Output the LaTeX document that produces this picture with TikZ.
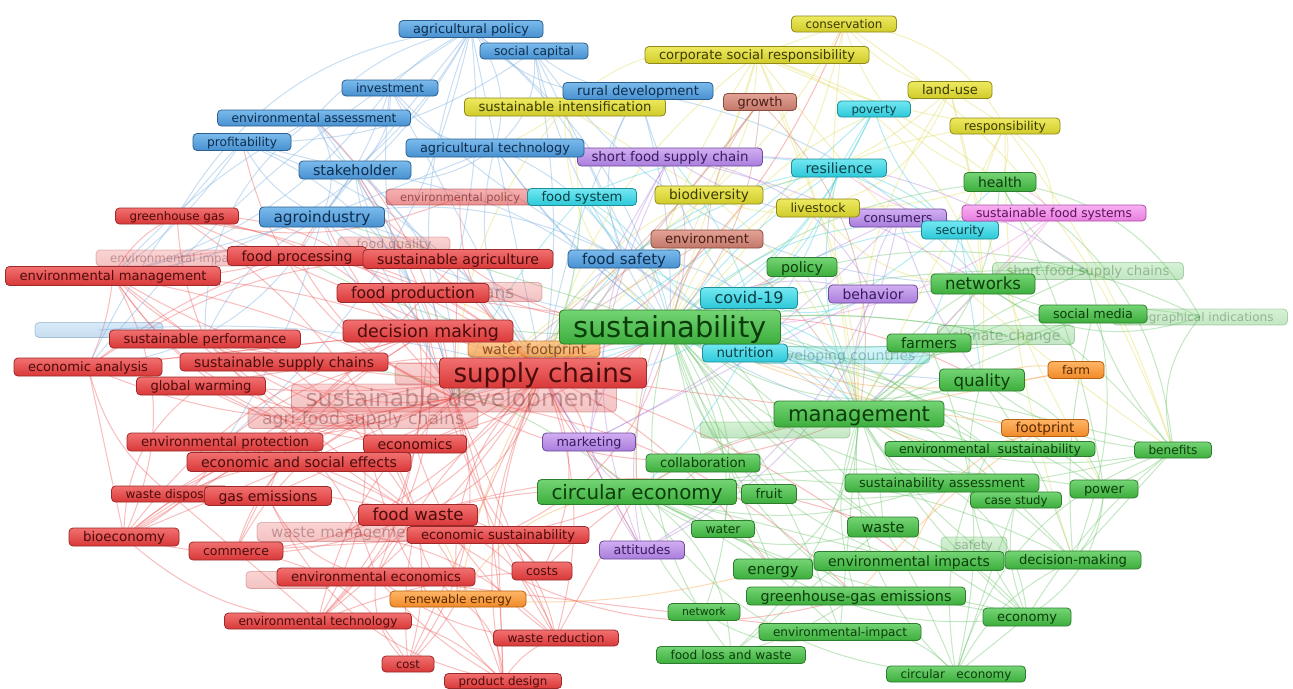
\documentclass[tikz,border=0pt]{standalone}
\usepackage{fontspec}
\setmainfont{DejaVu Sans}
\usetikzlibrary{shadings}
\pgfdeclarelayer{back}
\pgfdeclarelayer{bg}
\pgfsetlayers{back,bg,main}
\definecolor{rT}{HTML}{F27070}\definecolor{rB}{HTML}{D93838}\definecolor{rD}{HTML}{9C2A2A}\definecolor{rX}{HTML}{4A0C0C}
\definecolor{gT}{HTML}{74D474}\definecolor{gB}{HTML}{3CAE3C}\definecolor{gD}{HTML}{2E7D2E}\definecolor{gX}{HTML}{0B3D0B}
\definecolor{bT}{HTML}{7BBBEC}\definecolor{bB}{HTML}{4790D0}\definecolor{bD}{HTML}{2A5F8F}\definecolor{bX}{HTML}{0D2D4D}
\definecolor{yT}{HTML}{EEEA60}\definecolor{yB}{HTML}{CFCB2A}\definecolor{yD}{HTML}{8F8A1A}\definecolor{yX}{HTML}{3D3A05}
\definecolor{cT}{HTML}{72E8F2}\definecolor{cB}{HTML}{2CC8D8}\definecolor{cD}{HTML}{1E8F9A}\definecolor{cX}{HTML}{0B3F45}
\definecolor{pT}{HTML}{D2AEF2}\definecolor{pB}{HTML}{A97DDC}\definecolor{pD}{HTML}{6F4A9A}\definecolor{pX}{HTML}{3A1A5E}
\definecolor{nT}{HTML}{E3A296}\definecolor{nB}{HTML}{C2786A}\definecolor{nD}{HTML}{8A4A3E}\definecolor{nX}{HTML}{4A1E16}
\definecolor{oT}{HTML}{FFB566}\definecolor{oB}{HTML}{F08A28}\definecolor{oD}{HTML}{B8600E}\definecolor{oX}{HTML}{5A2800}
\definecolor{kT}{HTML}{F8B0F2}\definecolor{kB}{HTML}{E87EE0}\definecolor{kD}{HTML}{B04AA8}\definecolor{kX}{HTML}{5E1058}
\definecolor{eR}{HTML}{F05A5A}\definecolor{eG}{HTML}{6CC46C}\definecolor{eB}{HTML}{78AEE0}
\definecolor{eY}{HTML}{E2DC58}\definecolor{eC}{HTML}{48D0E0}\definecolor{eP}{HTML}{B488E0}
\definecolor{eN}{HTML}{C88070}\definecolor{eO}{HTML}{F8A448}\definecolor{eK}{HTML}{F080E0}
\tikzset{
  kwbase/.style={rounded corners=3pt, draw, line width=0.6pt, inner sep=0pt,
    text height=0pt, text depth=0pt},
  R/.style={kwbase, top color=rT, bottom color=rB, draw=rD, text=rX},
  G/.style={kwbase, top color=gT, bottom color=gB, draw=gD, text=gX},
  B/.style={kwbase, top color=bT, bottom color=bB, draw=bD, text=bX},
  Y/.style={kwbase, top color=yT, bottom color=yB, draw=yD, text=yX},
  C/.style={kwbase, top color=cT, bottom color=cB, draw=cD, text=cX},
  P/.style={kwbase, top color=pT, bottom color=pB, draw=pD, text=pX},
  N/.style={kwbase, top color=nT, bottom color=nB, draw=nD, text=nX},
  O/.style={kwbase, top color=oT, bottom color=oB, draw=oD, text=oX},
  K/.style={kwbase, top color=kT, bottom color=kB, draw=kD, text=kX},
  faded/.style={opacity=0.3},
  half/.style={opacity=0.55},
  E/.style={line width=0.75pt, opacity=0.4},
}
\newcommand\kwt[2]{%
  \setbox0=\hbox{\fontsize{10}{12}\selectfont #2}%
  \edef\kwtw{\the\wd0}%
  \pgfmathsetmacro\kwfs{min(10*((#1-28)*0.75)/max(\kwtw,1), \kwmax)}%
  \fontsize{\kwfs}{\kwfs}\selectfont\raisebox{-0.36em}[0pt][0pt]{#2}}
\newcommand\kw[7]{%
  \pgfmathsetmacro\kwmax{0.9*#5*0.75}%
  \node[#6, minimum width={#4*0.75pt}, minimum height={#5*0.75pt}] (#1) at (#2,#3) {\kwt{#4}{#7}};%
}
\newcommand\blank[6]{\node[#6, minimum width={#4*0.75pt}, minimum height={#5*0.75pt}] (#1) at (#2,#3) {};}
\newcommand\edges[2]{%
  \foreach \a/\b [count=\i] in {#2} {%
    \pgfmathsetmacro\bb{mod(\i*5,7)*9-27}%
    \draw[E,#1] (\a.center) to[bend left=\bb] (\b.center);}}
\begin{document}
\begin{tikzpicture}[x=0.75pt,y=-0.75pt]
\useasboundingbox (0,0) rectangle (1293,689);
\begin{pgfonlayer}{back}\fill[white] (0,0) rectangle (1293,689);\end{pgfonlayer}
% ---------- faded keywords ----------
\kw{eif}{175}{258}{158}{16}{R,faded}{environmental impact}
\blank{fb1}{99}{330}{128}{15}{B,faded}
\blank{fb2}{288}{580}{84}{17}{R,faded}
\blank{fb3}{440}{374}{90}{22}{R,faded}
\blank{fb4}{775}{430}{150}{16}{G,faded}
\kw{fq}{394}{244}{112}{14}{R,faded}{food quality}
\kw{hum}{480}{292}{124}{19}{R,faded}{humans}
\kw{sd}{454}{398}{325}{28}{R,faded}{sustainable development}
\kw{afsc}{363}{418}{230}{21}{R,faded}{agri-food supply chains}
\kw{wm}{346}{532}{178}{19}{R,faded}{waste management}
\kw{dc}{842}{355}{175}{17}{C,faded}{developing countries}
\kw{sfscs}{1088}{271}{191}{17}{G,faded}{short food supply chains}
\kw{gi}{1200}{317}{175}{16}{G,faded}{geographical indications}
\kw{cc}{1006}{335}{137}{19}{G,faded}{climate-change}
\kw{saf}{974}{545}{66}{16}{G,faded}{safety}
\kw{epol}{460}{197}{148}{16}{R,half}{environmental policy}
\kw{wfp}{534}{349}{132}{16}{O,opacity=0.7}{water footprint}
% ---------- red ----------
\kw{gg}{177}{216}{123}{16}{R}{greenhouse gas}
\kw{fp}{297}{256}{139}{19}{R}{food processing}
\kw{sa}{458}{259}{190}{19}{R}{sustainable agriculture}
\kw{em}{113}{276}{215}{19}{R}{environmental management}
\kw{fpr}{413}{293}{152}{19}{R}{food production}
\kw{sp}{205}{339}{191}{18}{R}{sustainable performance}
\kw{dm}{428}{331}{170}{22}{R}{decision making}
\kw{ea}{88}{367}{148}{18}{R}{economic analysis}
\kw{ssc}{284}{362}{208}{18}{R}{sustainable supply chains}
\kw{gw}{201}{386}{129}{18}{R}{global warming}
\kw{sch}{543}{373}{207}{30}{R}{supply chains}
\kw{envp}{225}{442}{196}{18}{R}{environmental protection}
\kw{eco}{415}{444}{103}{18}{R}{economics}
\kw{ese}{299}{462}{224}{19}{R}{economic and social effects}
\kw{wd}{170}{494}{117}{16}{R}{waste disposal}
\kw{ge}{268}{496}{127}{19}{R}{gas emissions}
\kw{es}{498}{535}{182}{17}{R}{economic sustainability}
\kw{fw}{418}{515}{119}{21}{R}{food waste}
\kw{bio}{124}{537}{110}{18}{R}{bioeconomy}
\kw{com}{236}{551}{94}{18}{R}{commerce}
\kw{eec}{376}{577}{198}{18}{R}{environmental economics}
\kw{costs}{542}{571}{60}{18}{R}{costs}
\kw{et}{318}{621}{187}{16}{R}{environmental technology}
\kw{wr}{556}{638}{125}{16}{R}{waste reduction}
\kw{cost}{408}{664}{52}{16}{R}{cost}
\kw{pd}{503}{681}{117}{15}{R}{product design}
% ---------- blue ----------
\kw{ap}{471}{29}{144}{17}{B}{agricultural policy}
\kw{scap}{534}{51}{108}{16}{B}{social capital}
\kw{inv}{390}{88}{96}{16}{B}{investment}
\kw{eas}{314}{118}{193}{16}{B}{environmental assessment}
\kw{prof}{242}{142}{98}{17}{B}{profitability}
\kw{stk}{355}{170}{112}{18}{B}{stakeholder}
\kw{si}{565}{107}{201}{18}{Y}{sustainable intensification}
\kw{rd}{638}{91}{150}{17}{B}{rural development}
\kw{sfsc}{670}{157}{185}{18}{P}{short food supply chain}
\kw{agt}{495}{148}{178}{18}{B}{agricultural technology}
\kw{agro}{322}{217}{125}{20}{B}{agroindustry}
\kw{fs}{624}{259}{112}{18}{B}{food safety}
% ---------- yellow / brown / cyan / purple / pink / orange ----------
\kw{cons}{844}{24}{105}{16}{Y}{conservation}
\kw{csr}{757}{55}{224}{17}{Y}{corporate social responsibility}
\kw{lu}{950}{90}{84}{17}{Y}{land-use}
\kw{resp}{1005}{126}{110}{16}{Y}{responsibility}
\kw{biod}{709}{195}{108}{18}{Y}{biodiversity}
\kw{grow}{760}{102}{73}{17}{N}{growth}
\kw{env}{707}{239}{112}{18}{N}{environment}
\kw{pov}{874}{109}{73}{16}{C}{poverty}
\kw{res}{839}{168}{95}{18}{C}{resilience}
\kw{fsys}{582}{197}{109}{17}{C}{food system}
\kw{consu}{898}{218}{97}{18}{P}{consumers}
\kw{live}{818}{208}{83}{18}{Y}{livestock}
\kw{sec}{960}{230}{77}{18}{C}{security}
\kw{sfs}{1054}{213}{184}{16}{K}{sustainable food systems}
\kw{health}{1000}{182}{72}{19}{G}{health}
\kw{cov}{749}{298}{97}{21}{C}{covid-19}
\kw{beh}{873}{294}{89}{18}{P}{behavior}
\kw{nut}{745}{353}{85}{18}{C}{nutrition}
\kw{mkt}{589}{442}{93}{18}{P}{marketing}
\kw{att}{642}{550}{85}{18}{P}{attitudes}
\kw{re}{458}{599}{136}{16}{O}{renewable energy}
\kw{farm}{1076}{370}{56}{17}{O}{farm}
\kw{fopr}{1045}{428}{87}{17}{O}{footprint}
% ---------- green ----------
\kw{sus}{670}{327}{221}{34}{G}{sustainability}
\kw{pol}{802}{267}{70}{19}{G}{policy}
\kw{net}{983}{284}{104}{20}{G}{networks}
\kw{sm}{1093}{314}{108}{18}{G}{social media}
\kw{farmers}{929}{343}{84}{18}{G}{farmers}
\kw{qual}{982}{380}{85}{22}{G}{quality}
\kw{mgmt}{859}{414}{170}{26}{G}{management}
\kw{ens}{990}{449}{210}{15}{G}{environmental\ \ sustainability}
\kw{ben}{1173}{450}{77}{16}{G}{benefits}
\kw{coll}{703}{463}{114}{18}{G}{collaboration}
\kw{ce}{637}{492}{199}{25}{G}{circular economy}
\kw{fruit}{769}{494}{55}{19}{G}{fruit}
\kw{sas}{942}{483}{194}{18}{G}{sustainability assessment}
\kw{cs}{1016}{500}{91}{16}{G}{case study}
\kw{pow}{1104}{489}{68}{18}{G}{power}
\kw{water}{723}{529}{63}{17}{G}{water}
\kw{waste}{883}{527}{71}{20}{G}{waste}
\kw{eimp}{909}{561}{190}{19}{G}{environmental impacts}
\kw{dmk}{1073}{560}{136}{18}{G}{decision-making}
\kw{energy}{773}{569}{79}{20}{G}{energy}
\kw{ghg}{856}{596}{219}{18}{G}{greenhouse-gas emissions}
\kw{netw}{704}{612}{72}{17}{G}{network}
\kw{eimpact}{840}{632}{162}{17}{G}{environmental-impact}
\kw{econ}{1027}{617}{88}{18}{G}{economy}
\kw{flw}{731}{655}{149}{17}{G}{food loss and waste}
\kw{ce2}{956}{674}{139}{16}{G}{circular\ \ \ economy}
% ---------- links ----------
\begin{pgfonlayer}{bg}
\edges{eR}{sch/em, sch/gg, sch/fp, sch/sp, sch/ea, sch/gw, sch/envp, sch/ese, sch/ge, sch/bio, sch/com, sch/et, sch/eec, sch/re, sch/wr, sch/cost, sch/pd, sch/costs, sch/sa, sch/fpr, sch/dm, sch/sus, sch/mgmt, sch/ce, sch/fw, sch/wm, sch/es, sch/eco, sch/mkt, sch/att, sch/cons, sch/qual, sch/eimp,
 sd/em, sd/gg, sd/ea, sd/bio, sd/et, sd/cost, sd/pd, sd/wd, sd/com, sd/fp, sd/sa, sd/eas, sd/prof, sd/agro, sd/stk, sd/mgmt, sd/ghg, sd/wr, sd/costs, sd/gw, sd/envp,
 dm/em, dm/gg, dm/sp, dm/wd, dm/bio, dm/et, dm/eec, dm/wr, dm/ge, dm/energy, dm/ea, dm/com,
 fw/wr, fw/pd, fw/cost, fw/re, fw/bio, fw/et, fw/wm, fw/costs, fw/ce, fw/wd, fw/ghg, fw/waste, fw/em, fw/gg,
 afsc/em, afsc/sp, afsc/bio, afsc/com, afsc/et, afsc/ese, afsc/pd, afsc/cost,
 gg/fpr, em/fp, em/eco, ea/sa, ea/dm, sp/eco, gw/eec, envp/fw, ese/es, ge/eec, bio/ese, com/es, eec/wr, et/pd, et/costs, cost/re, pd/re, pd/wr, wr/ce, wr/es, cost/eec, pd/eec, es/ce, es/sus, costs/mgmt, fpr/sus, sa/sus, sa/stk, fp/agro, eco/sus, ssc/sus, ssc/em, eec/eimpact, gg/em, eif/sch, fq/sch, hum/sus, epol/sch, epol/gg,
 ea/bio, ea/wd, em/bio, em/ea, gg/sp, gw/bio, envp/bio, wd/et, bio/et, com/cost, ssc/fw, sp/fw, ge/pd, wm/wr, es/pd, eco/wr, fpr/et, sa/bio, fp/ea}
\edges{eG}{sus/health, sus/net, sus/sm, sus/gi, sus/cc, sus/farmers, sus/qual, sus/ens, sus/ben, sus/sas, sus/cs, sus/pow, sus/waste, sus/eimp, sus/dmk, sus/energy, sus/ghg, sus/netw, sus/eimpact, sus/econ, sus/flw, sus/ce2, sus/coll, sus/fruit, sus/water, sus/sfscs, sus/pol,
 mgmt/health, mgmt/net, mgmt/sm, mgmt/ben, mgmt/pow, mgmt/dmk, mgmt/econ, mgmt/ce2, mgmt/flw, mgmt/eimpact, mgmt/ghg, mgmt/energy, mgmt/waste, mgmt/cs, mgmt/sas, mgmt/ens, mgmt/qual, mgmt/farmers, mgmt/gi, mgmt/sfscs, mgmt/pol,
 ce/waste, ce/energy, ce/ghg, ce/netw, ce/flw, ce/eimpact, ce/econ, ce/ce2, ce/dmk, ce/eimp, ce/sas, ce/ens, ce/pow, ce/ben, ce/coll, ce/fruit, ce/water,
 qual/ben, qual/pow, qual/dmk, net/sm, net/gi, net/sfscs, net/farmers, health/sfscs, health/gi, ben/pow, ben/econ, ben/ce2, pow/dmk, econ/ce2, dmk/ce2, eimpact/ce2, ghg/econ, flw/ghg, netw/eimpact, waste/econ, cs/ce2, ens/ce2, sas/econ, saf/mgmt, cc/sus, fb4/sus, sus/fp, sus/agro, ce/ssc,
 health/ben, health/pow, sm/ben, gi/ben, sfscs/dmk, ben/dmk, cs/econ, pow/econ, net/ben, sm/dmk, qual/econ, farmers/ce2, waste/flw, energy/econ}
\edges{eB}{ap/sus, ap/sch, ap/sd, ap/agt, ap/stk, ap/inv, ap/rd, ap/fs, ap/agro, ap/eas, ap/em, ap/sa, ap/ea, ap/gg, ap/envp,
 scap/sus, scap/rd, scap/agt, scap/sch, scap/fs, scap/net, scap/prof,
 inv/sch, inv/sd, inv/stk, inv/agro, inv/fs, inv/agt, inv/em,
 eas/sch, eas/stk, eas/agro, eas/dm, eas/em, eas/sp,
 prof/sch, prof/stk, prof/agro, prof/sd, prof/em, prof/ea,
 stk/sch, stk/sus, stk/agro, stk/dm, stk/sd, stk/fpr,
 agt/sus, agt/sch, agt/fs, agt/agro, agt/mgmt, agt/stk,
 rd/sus, rd/sch, rd/fs, rd/net, rd/si, rd/mgmt,
 agro/sch, agro/sd, agro/sus, agro/dm, agro/fs, agro/em, agro/sp, agro/ea, agro/envp,
 fs/sus, fs/sch, fs/cov, fs/mgmt, fs/qual, fs/sd, fb1/sch}
\edges{eY}{cons/sus, cons/csr, cons/lu, cons/resp, cons/biod, cons/mgmt, cons/health, cons/ben,
 csr/sus, csr/sch, csr/sd, csr/mgmt, csr/resp, csr/si, csr/biod, csr/live, csr/ce, csr/net, csr/health, csr/ben,
 lu/sus, lu/biod, lu/resp, lu/mgmt, lu/live, lu/qual, lu/pow,
 resp/sus, resp/health, resp/mgmt, resp/net, resp/sfs, resp/ben, resp/dmk,
 si/sus, si/sch, si/biod, si/sd, si/rd, si/agt,
 biod/sus, biod/sch, biod/mgmt, biod/sd, biod/live,
 live/sus, live/mgmt, live/health, live/net}
\edges{eC}{pov/sus, pov/res, pov/sec, pov/sch, pov/sd,
 res/sus, res/sch, res/cov, res/sec, res/mgmt, res/net, res/nut, res/fs,
 sec/sus, sec/mgmt, sec/qual, sec/cov,
 fsys/sus, fsys/sch, fsys/sd, fsys/cov, fsys/res, fsys/nut,
 cov/sus, cov/sch, cov/mgmt, cov/sfsc, cov/beh, cov/nut,
 nut/sus, nut/sch, nut/mgmt, nut/ce, nut/health, dc/sus}
\edges{eP}{sfsc/sus, sfsc/sch, sfsc/consu, sfsc/beh, sfsc/net, sfsc/mkt, sfsc/att, sfsc/sfscs,
 consu/sus, consu/beh, consu/att, consu/mkt, consu/qual,
 beh/sus, beh/att, beh/mkt, beh/mgmt,
 mkt/sus, mkt/sch, mkt/att, mkt/ce,
 att/sus, att/sch}
\edges{eN}{grow/sus, grow/sch, grow/env, grow/mgmt, grow/sd, env/sus, env/sch, env/mgmt, env/sd, env/ce}
\edges{eO}{wfp/sus, wfp/sch, wfp/fpr, re/ce, re/sch, re/energy, re/fw, farm/sus, farm/mgmt, farm/qual, fopr/mgmt, fopr/sus, fopr/ghg, fopr/eimp}
\edges{eK}{sfs/sus, sfs/mgmt, sfs/health, sfs/res, sfs/net}
\end{pgfonlayer}
\end{tikzpicture}
\end{document}
